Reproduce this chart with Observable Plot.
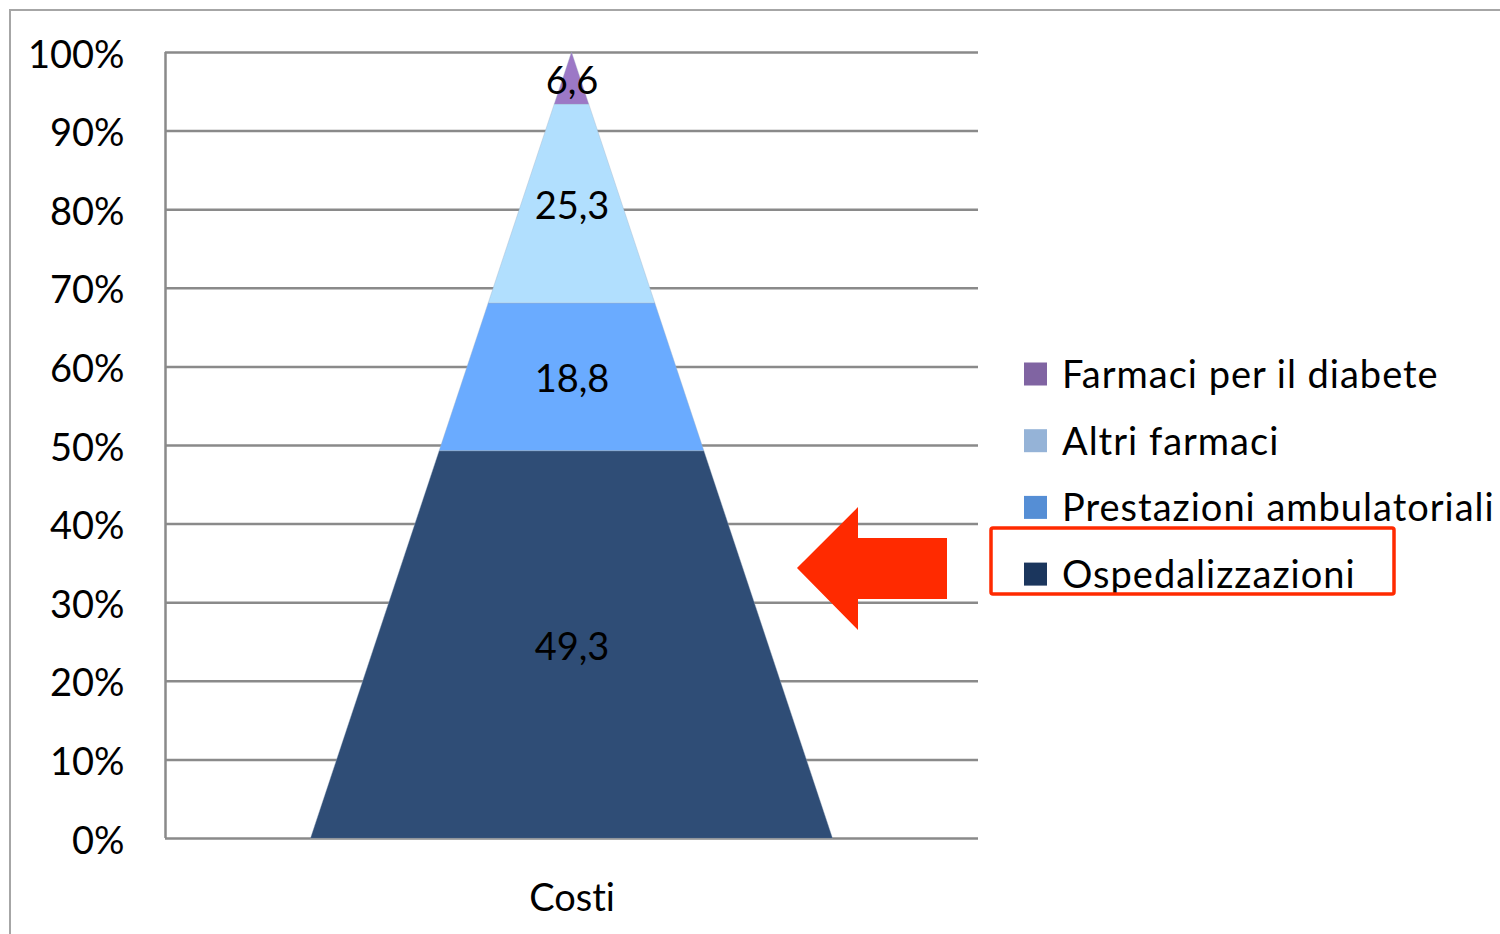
<!DOCTYPE html>
<html>
<head>
<meta charset="utf-8">
<script src="https://cdn.jsdelivr.net/npm/d3@7"></script>
<script src="https://cdn.jsdelivr.net/npm/@observablehq/plot@0.6"></script>
<style>
  html, body { margin: 0; padding: 0; background: #fff; }
  #chart { position: relative; width: 1500px; height: 934px; overflow: hidden; }
  #chart svg text { font-variant-ligatures: none; }
</style>
</head>
<body>
<div id="chart"></div>
<script>
// Cost breakdown, stacked bottom to top as a 100% pyramid
const category = "Costi";
const series = ["Ospedalizzazioni", "Prestazioni ambulatoriali", "Altri farmaci", "Farmaci per il diabete"];
const values = [49.3, 18.8, 25.3, 6.6];
const valueLabels = ["49,3", "18,8", "25,3", "6,6"];
const yTicks = [0, 10, 20, 30, 40, 50, 60, 70, 80, 90, 100];
const pyramidColors = ["#2f4d76", "#6aabff", "#b1dffe", "#9c78c6"];
const legendColors = ["#1b365d", "#558ed5", "#95b3d7", "#8064a2"];
const highlighted = "Ospedalizzazioni";

const FONT = "Lato, 'Open Sans', sans-serif";
const baseHalf = 0.642; // half-width of the pyramid base, in x units

// stack the segments
let acc = 0;
const segments = series.map((s, i) => {
  const y0 = acc;
  acc += values[i];
  return { series: s, y0, y1: acc, mid: (y0 + acc) / 2, label: valueLabels[i] };
});
const half = (y) => baseHalf * (1 - y / 100);
const edges = segments.flatMap((d) => [
  { series: d.series, y: d.y0, x1: -half(d.y0), x2: half(d.y0) },
  { series: d.series, y: d.y1, x1: -half(d.y1), x2: half(d.y1) }
]);

const gridColor = "#8a8a8a";

const plot = Plot.plot({
  width: 1500,
  height: 934,
  marginLeft: 165,
  marginRight: 522,
  marginTop: 52,
  marginBottom: 96,
  style: { fontFamily: FONT, fontSize: "38px", color: "#000", background: "#fff", overflow: "visible" },
  x: { domain: [-1, 1], axis: null },
  y: { domain: [0, 100], axis: null },
  color: { domain: series, range: pyramidColors },
  marks: [
    Plot.ruleY(yTicks, { stroke: gridColor, strokeWidth: 2.5 }),
    Plot.ruleX([-1], { y1: 0, y2: 100, stroke: gridColor, strokeWidth: 2.5 }),
    Plot.areaX(edges, { y: "y", x1: "x1", x2: "x2", z: "series", fill: "series", stroke: "#9fb0c4", strokeWidth: 0.6, strokeOpacity: 0.6 }),
    Plot.text(segments, { x: 0, y: "mid", text: "label", fill: "#000", fontSize: 38, dy: 3 }),
    Plot.axisY(yTicks, { tickSize: 0, tickPadding: 41, tickFormat: (d) => d + "%", fontSize: 38, dy: 3 }),
    Plot.text([category], { frameAnchor: "bottom", dy: 72, fontSize: 38, fill: "#000" })
  ]
});

document.getElementById("chart").appendChild(plot);

const svg = d3.select(plot);

// chart area border
svg.insert("rect", ":first-child")
  .attr("x", 10).attr("y", 10)
  .attr("width", 1700).attr("height", 1100)
  .attr("fill", "none").attr("stroke", "#a6a6a6").attr("stroke-width", 2);

// legend, top entry first
const legendX = 1024, legendY = 374, rowGap = 66.7, sw = 23;
const legendItems = series.map((s, i) => ({ s, c: legendColors[i] })).reverse();
const lg = svg.append("g")
  .attr("font-family", FONT).attr("font-size", 38)
  .attr("text-anchor", "start").attr("letter-spacing", 1);
legendItems.forEach((d, i) => {
  const cy = legendY + i * rowGap;
  lg.append("rect").attr("x", legendX).attr("y", cy - sw / 2).attr("width", sw).attr("height", sw).attr("fill", d.c);
  lg.append("text").attr("x", legendX + 38).attr("y", cy + 14).attr("fill", "#000").text(d.s);
});

// highlight of the hospitalisation entry
const hi = legendItems.findIndex((d) => d.s === highlighted);
const hy = legendY + hi * rowGap;
const red = "#ff2a00";
svg.append("rect")
  .attr("x", 991).attr("y", hy - 46).attr("width", 403).attr("height", 66)
  .attr("fill", "none").attr("stroke", red).attr("stroke-width", 3.5).attr("rx", 2);
svg.append("polygon")
  .attr("points", [[797, hy - 6], [858, hy - 67], [858, hy - 36], [947, hy - 36], [947, hy + 25], [858, hy + 25], [858, hy + 56]].map((p) => p.join(",")).join(" "))
  .attr("fill", red);
</script>
</body>
</html>
